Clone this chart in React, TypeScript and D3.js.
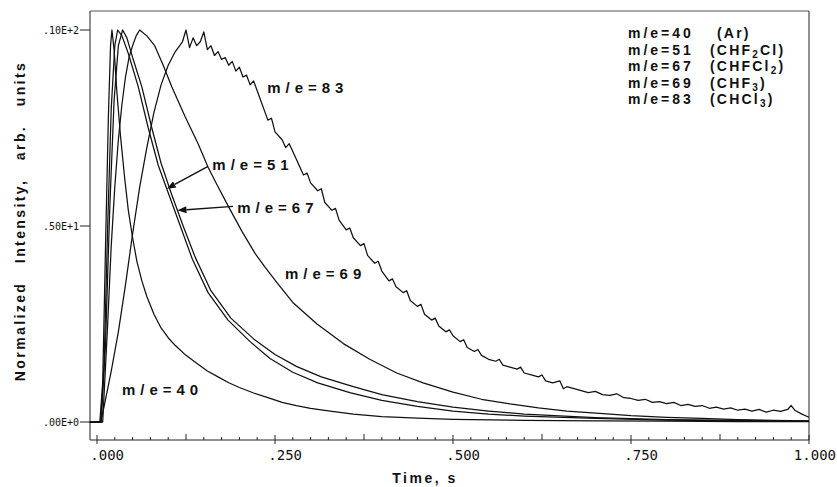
import React from 'react';
import * as d3 from 'd3';

// axis ticks
const xMajorTicks = [0, 0.25, 0.5, 0.75, 1];
const xTickLabels = ['.000', '.250', '.500', '.750', '1.000'];
const yTicks = [0, 5, 10];
const yTickLabels = ['.00E+0', '.50E+1', '.10E+2'];

// m/e=40 (Ar)
const t40 = [-0.01, 0.004, 0.008, 0.012, 0.016, 0.019, 0.021, 0.024, 0.028, 0.033, 0.039, 0.044, 0.05, 0.056, 0.063, 0.07, 0.08, 0.09, 0.1, 0.11, 0.125, 0.14, 0.155, 0.17, 0.185, 0.2, 0.22, 0.24, 0.26, 0.28, 0.3, 0.33, 0.36, 0.4, 0.45, 0.5, 0.6, 0.7, 0.8, 0.9, 1.0];
const v40 = [0, 0, 1.0, 4.5, 7.8, 9.6, 10, 9.5, 8.4, 7.3, 6.2, 5.4, 4.7, 4.1, 3.6, 3.2, 2.75, 2.4, 2.15, 1.95, 1.7, 1.5, 1.3, 1.15, 1.0, 0.88, 0.74, 0.62, 0.5, 0.42, 0.35, 0.27, 0.2, 0.14, 0.1, 0.07, 0.04, 0.03, 0.02, 0.01, 0.01];

// m/e=51 (CHF2Cl)
const t51 = [-0.01, 0.005, 0.01, 0.015, 0.02, 0.025, 0.029, 0.035, 0.044, 0.058, 0.072, 0.086, 0.1, 0.117, 0.134, 0.156, 0.184, 0.215, 0.243, 0.275, 0.31, 0.355, 0.4, 0.45, 0.5, 0.55, 0.6, 0.7, 0.8, 0.9, 1.0];
const v51 = [0, 0, 1.5, 5.0, 8.0, 9.6, 10, 9.85, 9.4, 8.55, 7.5, 6.55, 5.85, 5.0, 4.15, 3.3, 2.6, 2.05, 1.62, 1.27, 1.0, 0.75, 0.55, 0.4, 0.28, 0.2, 0.15, 0.09, 0.05, 0.03, 0.02];

// m/e=67 (CHFCl2)
const t67 = [-0.01, 0.006, 0.012, 0.018, 0.024, 0.03, 0.036, 0.042, 0.05, 0.063, 0.077, 0.09, 0.104, 0.121, 0.138, 0.16, 0.188, 0.22, 0.25, 0.28, 0.315, 0.36, 0.4, 0.45, 0.5, 0.55, 0.6, 0.7, 0.8, 0.9, 1.0];
const v67 = [0, 0, 2.0, 5.5, 8.2, 9.6, 10, 9.8, 9.3, 8.55, 7.5, 6.6, 5.85, 5.0, 4.2, 3.35, 2.65, 2.12, 1.72, 1.42, 1.15, 0.9, 0.7, 0.52, 0.38, 0.28, 0.2, 0.11, 0.06, 0.04, 0.02];

// m/e=69 (CHF3)
const t69 = [-0.01, 0.008, 0.015, 0.02, 0.025, 0.03, 0.035, 0.04, 0.045, 0.05, 0.055, 0.06, 0.07, 0.081, 0.093, 0.105, 0.124, 0.142, 0.156, 0.17, 0.186, 0.204, 0.222, 0.236, 0.253, 0.275, 0.309, 0.346, 0.383, 0.421, 0.458, 0.5, 0.54, 0.58, 0.62, 0.66, 0.706, 0.75, 0.8, 0.85, 0.9, 0.95, 1.0];
const v69 = [0, 0, 2.5, 4.5, 6.0, 7.2, 8.1, 8.8, 9.3, 9.6, 9.85, 10, 9.85, 9.6, 9.1, 8.55, 7.78, 7.1, 6.5, 6.0, 5.45, 4.85, 4.3, 3.95, 3.55, 3.05, 2.5, 2.0, 1.6, 1.25, 1.0, 0.76, 0.58, 0.46, 0.36, 0.28, 0.22, 0.16, 0.12, 0.09, 0.06, 0.04, 0.03];

// m/e=83 (CHCl3), noisy trace
const t83 = [-0.01, 0.005, 0.01, 0.02, 0.03, 0.04, 0.05, 0.06, 0.07, 0.08, 0.09, 0.1, 0.11, 0.12, 0.125, 0.13, 0.135, 0.14, 0.145, 0.15, 0.155, 0.16, 0.165, 0.17, 0.175, 0.18, 0.185, 0.19, 0.195, 0.2, 0.205, 0.21, 0.215, 0.22, 0.225, 0.23, 0.235, 0.24, 0.245, 0.25, 0.26, 0.265, 0.27, 0.28, 0.29, 0.295, 0.3, 0.31, 0.315, 0.32, 0.33, 0.335, 0.34, 0.35, 0.355, 0.36, 0.37, 0.375, 0.38, 0.39, 0.395, 0.4, 0.41, 0.415, 0.42, 0.43, 0.435, 0.44, 0.45, 0.455, 0.46, 0.47, 0.475, 0.48, 0.49, 0.495, 0.5, 0.51, 0.515, 0.52, 0.53, 0.535, 0.54, 0.55, 0.56, 0.565, 0.57, 0.58, 0.59, 0.595, 0.6, 0.61, 0.62, 0.625, 0.63, 0.64, 0.65, 0.655, 0.66, 0.67, 0.68, 0.69, 0.7, 0.71, 0.72, 0.73, 0.74, 0.75, 0.76, 0.77, 0.78, 0.79, 0.8, 0.81, 0.82, 0.83, 0.84, 0.85, 0.86, 0.87, 0.88, 0.89, 0.9, 0.91, 0.92, 0.93, 0.94, 0.95, 0.96, 0.97, 0.975, 0.98, 0.99, 1.0];
const v83 = [0, 0, 0.4, 1.3, 2.3, 3.5, 4.8, 6.0, 7.0, 7.9, 8.6, 9.1, 9.45, 9.7, 10.0, 9.55, 9.8, 9.6, 9.7, 9.95, 9.5, 9.6, 9.35, 9.45, 9.25, 9.3, 9.1, 9.2, 8.95, 9.05, 8.8, 8.85, 8.6, 8.7, 8.45, 8.2, 7.95, 7.7, 7.75, 7.4, 7.2, 7.0, 7.1, 6.7, 6.3, 6.35, 6.1, 5.9, 5.95, 5.6, 5.4, 5.45, 5.15, 4.9, 4.95, 4.7, 4.5, 4.55, 4.25, 4.05, 4.1, 3.85, 3.6, 3.65, 3.45, 3.3, 3.35, 3.1, 2.95, 3.0, 2.75, 2.6, 2.65, 2.45, 2.3, 2.35, 2.2, 2.05, 2.1, 1.9, 1.8, 1.85, 1.7, 1.6, 1.55, 1.6, 1.45, 1.4, 1.35, 1.4, 1.25, 1.2, 1.15, 1.2, 1.05, 1.0, 1.05, 0.85, 0.9, 0.85, 0.8, 0.75, 0.78, 0.7, 0.68, 0.72, 0.62, 0.6, 0.55, 0.58, 0.5, 0.52, 0.47, 0.5, 0.42, 0.45, 0.4, 0.42, 0.35, 0.38, 0.33, 0.36, 0.3, 0.33, 0.28, 0.32, 0.25, 0.3, 0.27, 0.32, 0.42, 0.3, 0.2, 0.12];

const seriesT = [t40, t51, t67, t69, t83];
const seriesV = [v40, v51, v67, v69, v83];

// curve labels: text, anchor time, anchor value
const curveLabels = ['m/e=83', 'm/e=51', 'm/e=67', 'm/e=69', 'm/e=40'];
const labelT = [0.239, 0.162, 0.197, 0.264, 0.035];
const labelV = [8.52, 6.56, 5.48, 3.78, 0.82];

// arrows: start (t, v) and the time where they hit the target curve
const arrowStartT = [0.156, 0.191];
const arrowStartV = [6.52, 5.5];
const arrowTargetT = [0.098, 0.113];
const arrowTargetSeries = [1, 2];

// legend
const legendMass = ['m/e=40', 'm/e=51', 'm/e=67', 'm/e=69', 'm/e=83'];
const legendFormula = [['(Ar)', '', ''], ['(CHF', '2', 'Cl)'], ['(CHFCl', '2', ')'], ['(CHF', '3', ')'], ['(CHCl', '3', ')']];

const W = 837;
const H = 487;
const frame = { left: 90, right: 809, top: 11, bottom: 440 };
const sans = '"Liberation Sans", Arial, Helvetica, sans-serif';
const mono = '"DejaVu Sans Mono", "Liberation Mono", monospace';

const interp = (ts: number[], vs: number[], t: number) => {
  const i = d3.bisectLeft(ts, t);
  if (i <= 0) return vs[0];
  if (i >= ts.length) return vs[vs.length - 1];
  const f = (t - ts[i - 1]) / (ts[i] - ts[i - 1]);
  return vs[i - 1] + f * (vs[i] - vs[i - 1]);
};

const App = () => {
  const x = d3.scaleLinear().domain([0, 1]).range([97, 809]);
  const y = d3.scaleLinear().domain([0, 10]).range([422, 30]);

  const line = d3.line<[number, number]>()
    .x(d => x(d[0]))
    .y(d => y(d[1]));

  const minorTicks = d3.range(0, 41).map(i => i * 0.025);

  return (
    <svg width={W} height={H} style={{ position: 'absolute', left: 0, top: 0, background: '#fff' }}>
      <rect x={0} y={0} width={W} height={H} fill="#fff" />

      {/* frame */}
      <line x1={frame.left} x2={frame.right} y1={frame.top} y2={frame.top} stroke="#555" strokeWidth={1} />
      <path
        d={`M${frame.right},${frame.top}V${frame.bottom}H${frame.left}V${frame.top}`}
        fill="none" stroke="#222" strokeWidth={1} />

      {/* x ticks */}
      {minorTicks.map((t, i) => {
        const major = i % 10 === 0;
        const mid = i % 5 === 0;
        const y1 = major ? frame.bottom - 5 : mid ? frame.bottom - 6 : frame.bottom - 3;
        const y2 = major ? frame.bottom + 4 : frame.bottom;
        return <line key={i} x1={x(t)} x2={x(t)} y1={y1} y2={y2} stroke="#222" strokeWidth={1} />;
      })}
      {xMajorTicks.map((t, i) => (
        <text key={i} x={x(t) + 27} y={460} textAnchor="end" fontFamily={mono} fontSize={14} fill="#111">
          {xTickLabels[i]}
        </text>
      ))}

      {/* y ticks */}
      {yTicks.map((v, i) => (
        <g key={i}>
          <line x1={frame.left - 10} x2={frame.left} y1={y(v)} y2={y(v)} stroke="#222" strokeWidth={1} />
          <text x={frame.left - 11} y={y(v)} dy="0.35em" textAnchor="end" fontFamily={mono} fontSize={10} fill="#111">
            {yTickLabels[i]}
          </text>
        </g>
      ))}

      {/* axis titles */}
      <text x={425} y={483} textAnchor="middle" fontFamily={sans} fontWeight="bold" fontSize={14} letterSpacing={2.5} fill="#111">
        Time,  s
      </text>
      <text transform="translate(25,221) rotate(-90)" textAnchor="middle" fontFamily={sans} fontWeight="bold"
        fontSize={14} letterSpacing={2.4} wordSpacing={3} fill="#111" style={{ whiteSpace: 'pre' }}>
        Normalized  Intensity,  arb.  units
      </text>

      {/* curves */}
      {seriesT.map((ts, k) => (
        <path key={k} d={line(ts.map((t, i) => [t, seriesV[k][i]] as [number, number])) || ''}
          fill="none" stroke="#111" strokeWidth={1.25} strokeLinejoin="round" />
      ))}

      {/* arrows */}
      {arrowStartT.map((t0, i) => {
        const s = arrowTargetSeries[i];
        const tt = arrowTargetT[i];
        const x0 = x(t0), y0 = y(arrowStartV[i]);
        const x1 = x(tt), y1 = y(interp(seriesT[s], seriesV[s], tt));
        const ang = Math.atan2(y1 - y0, x1 - x0);
        const len = 9, wid = 3.5;
        const bx = x1 - len * Math.cos(ang), by = y1 - len * Math.sin(ang);
        const px = -Math.sin(ang) * wid, py = Math.cos(ang) * wid;
        return (
          <g key={i}>
            <line x1={x0} y1={y0} x2={bx} y2={by} stroke="#111" strokeWidth={1.4} />
            <polygon points={`${x1},${y1} ${bx + px},${by + py} ${bx - px},${by - py}`} fill="#111" />
          </g>
        );
      })}

      {/* curve labels */}
      {curveLabels.map((txt, i) => (
        <text key={i} x={x(labelT[i])} y={y(labelV[i])} dy="0.36em" fontFamily={sans} fontWeight="bold"
          fontSize={15} letterSpacing={5} fill="#111">
          {txt}
        </text>
      ))}

      {/* legend */}
      {legendMass.map((m, i) => (
        <g key={i} fontFamily={sans} fontWeight="bold" fontSize={14} fill="#111">
          <text x={628} y={38 + i * 16.5} letterSpacing={3}>{m}</text>
          <text x={i === 0 ? 717 : 710} y={38 + i * 16.5} letterSpacing={2.2}>
            {legendFormula[i][0]}
            {legendFormula[i][1] && (
              <tspan fontSize={10} dy={3}>{legendFormula[i][1]}</tspan>
            )}
            {legendFormula[i][1] && (
              <tspan dy={-3}>{legendFormula[i][2]}</tspan>
            )}
          </text>
        </g>
      ))}
    </svg>
  );
};

export default App;
